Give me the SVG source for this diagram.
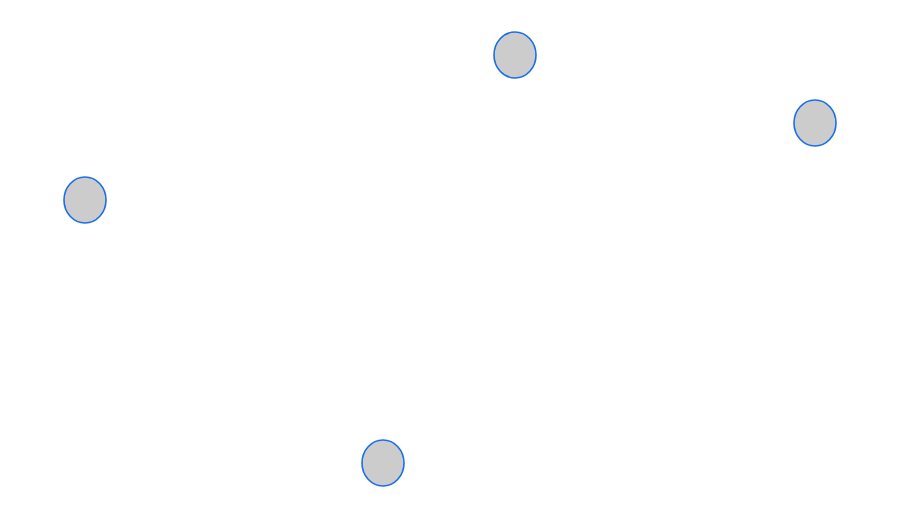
<svg xmlns="http://www.w3.org/2000/svg" width="923" height="518" viewBox="0 0 923 518">
<style>
.n{fill:#cccccc;stroke:#1a6ee6;stroke-width:1.6}
</style>
<rect width="923" height="518" fill="#ffffff"/>
<g id="connectors"></g>
<g id="node1"><ellipse class="n" cx="515" cy="55" rx="21" ry="23"/></g>
<g id="node2"><ellipse class="n" cx="815" cy="123" rx="21" ry="23"/></g>
<g id="node3"><ellipse class="n" cx="85" cy="200" rx="21" ry="23"/></g>
<g id="node4"><ellipse class="n" cx="383" cy="463" rx="21" ry="23"/></g>
</svg>
